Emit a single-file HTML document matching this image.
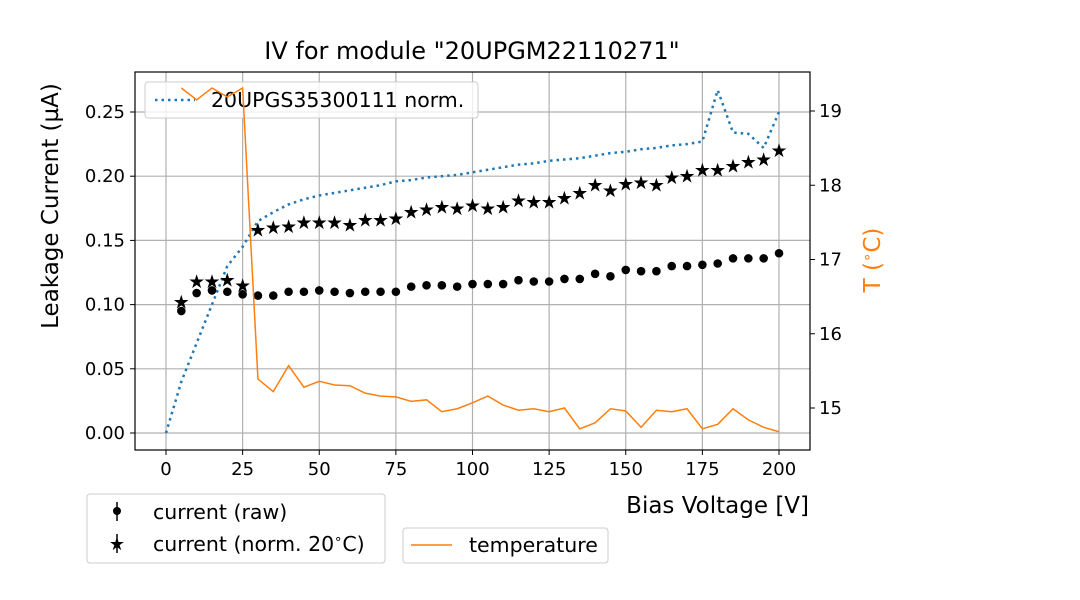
<!DOCTYPE html>
<html><head><meta charset="utf-8"><style>
html,body{margin:0;padding:0;background:#fff;}
svg{display:block;font-family:"DejaVu Sans","Liberation Sans",sans-serif;}
</style></head><body>
<svg id="chart" width="1080" height="600" xmlns="http://www.w3.org/2000/svg">
<rect width="1080" height="600" fill="#fff"/>
<g id="grid"></g>
<g id="marks"></g>
<rect x="135" y="72" width="675" height="378" fill="none" stroke="#000" stroke-width="1.2"/>
<g id="axes"></g>
<text x="472" y="59" font-size="24" text-anchor="middle">IV for module "20UPGM22110271"</text>
<text x="809" y="513" font-size="23" text-anchor="end">Bias Voltage [V]</text>
<text transform="translate(58,206) rotate(-90)" font-size="23" text-anchor="middle">Leakage Current (µA)</text>
<text transform="translate(880,260) rotate(-90)" font-size="23" text-anchor="middle" fill="#ff7f0e">T (<tspan font-size="15" dy="-8">∘</tspan><tspan dy="8">C)</tspan></text>
<g>
<rect x="145" y="82" width="333" height="36" rx="3" fill="#fff" fill-opacity="0.8" stroke="#ccc"/>
<line x1="155" y1="100" x2="195" y2="100" stroke="#1f77b4" stroke-width="2.5" stroke-dasharray="2.5,4"/>
<text x="211" y="107" font-size="20.5">20UPGS35300111 norm.</text>
</g>
<g id="orangeTop"></g>
<g>
<rect x="87" y="494" width="298" height="69" rx="3" fill="#fff" stroke="#ccc"/>
<line x1="117" y1="502" x2="117" y2="521" stroke="#000" stroke-width="1.5"/>
<circle cx="117" cy="511" r="4" fill="#000"/>
<text x="153" y="519" font-size="20.5">current (raw)</text>
<line x1="117" y1="534" x2="117" y2="553" stroke="#000" stroke-width="1.5"/>
<text x="117" y="550" font-size="18" text-anchor="middle">★</text>
<text x="153" y="551" font-size="20.5">current (norm. 20<tspan font-size="13" dy="-8">∘</tspan><tspan dy="8">C)</tspan></text>
</g>
<g>
<rect x="403" y="528" width="205" height="35" rx="3" fill="#fff" stroke="#ccc"/>
<line x1="411" y1="545" x2="452" y2="545" stroke="#ff7f0e" stroke-width="1.5"/>
<text x="469" y="552" font-size="20.5">temperature</text>
</g>
</svg>
<script>
const voltages=[5,10,15,20,25,30,35,40,45,50,55,60,65,70,75,80,85,90,95,100,105,110,115,120,125,130,135,140,145,150,155,160,165,170,175,180,185,190,195,200];
const currentRaw=[0.095,0.109,0.111,0.110,0.108,0.107,0.107,0.110,0.110,0.111,0.110,0.109,0.110,0.110,0.110,0.114,0.115,0.115,0.114,0.116,0.116,0.116,0.119,0.118,0.118,0.120,0.120,0.124,0.122,0.127,0.126,0.126,0.130,0.130,0.131,0.132,0.136,0.136,0.136,0.140];
const currentNorm=[0.102,0.118,0.118,0.119,0.115,0.158,0.160,0.161,0.164,0.164,0.164,0.162,0.166,0.166,0.167,0.172,0.174,0.176,0.175,0.177,0.175,0.176,0.181,0.180,0.180,0.183,0.187,0.193,0.189,0.194,0.195,0.193,0.199,0.200,0.205,0.205,0.208,0.211,0.213,0.220];
const sensorVoltages=[0,5,10,15,20,25,30,35,40,45,50,55,60,65,70,75,80,85,90,95,100,105,110,115,120,125,130,135,140,145,150,155,160,165,170,175,180,185,190,195,200];
const sensorNorm=[0.0,0.04,0.07,0.10,0.13,0.145,0.165,0.172,0.178,0.182,0.185,0.187,0.189,0.191,0.193,0.196,0.197,0.199,0.200,0.201,0.203,0.205,0.207,0.209,0.210,0.212,0.213,0.214,0.216,0.218,0.219,0.221,0.222,0.224,0.225,0.227,0.267,0.234,0.233,0.222,0.250];
const temperature=[19.31,19.15,19.31,19.19,19.31,15.39,15.22,15.57,15.28,15.36,15.31,15.30,15.20,15.16,15.15,15.09,15.11,14.95,14.99,15.07,15.16,15.04,14.97,14.99,14.95,15.0,14.72,14.80,14.99,14.96,14.74,14.97,14.95,14.99,14.72,14.78,14.99,14.84,14.74,14.68];
const xTicks=[0,25,50,75,100,125,150,175,200];
const yTicks=[0,0.05,0.10,0.15,0.20,0.25];
const yTickLabels=["0.00","0.05","0.10","0.15","0.20","0.25"];
const tTicks=[15,16,17,18,19];

const NS="http://www.w3.org/2000/svg";
const xs=v=>166+v*(779-166)/200;
const ys=v=>433-v*(433-112)/0.25;
const ts=t=>408-(t-15)*(408-111)/4;
function mk(tag,attrs,parent){const e=document.createElementNS(NS,tag);for(const k in attrs)e.setAttribute(k,attrs[k]);parent.appendChild(e);return e;}
const grid=document.getElementById('grid'),marks=document.getElementById('marks'),axes=document.getElementById('axes');
xTicks.forEach(v=>{const x=xs(v);
 const g=mk('line',{x1:x,x2:x,y1:72,y2:450,stroke:'#b0b0b0','stroke-width':1.2},grid);
 
 
 mk('line',{x1:x,x2:x,y1:450,y2:455,stroke:'#000'},axes);
 const t=mk('text',{x:x,y:475,'font-size':18,'text-anchor':'middle'},axes);t.textContent=v;
 
 });
yTicks.forEach((v,i)=>{const y=ys(v);
 const g=mk('line',{x1:135,x2:810,y1:y,y2:y,stroke:'#b0b0b0','stroke-width':1.2},grid);
 
 
 mk('line',{x1:130,x2:135,y1:y,y2:y,stroke:'#000'},axes);
 const t=mk('text',{x:125,y:y+6,'font-size':18,'text-anchor':'end'},axes);t.textContent=yTickLabels[i];
 
 });
tTicks.forEach(v=>{const y=ts(v);
 mk('line',{x1:810,x2:815,y1:y,y2:y,stroke:'#000'},axes);
 const t=mk('text',{x:819,y:y+6,'font-size':18},axes);t.textContent=v;
 
 });
const sp=mk('polyline',{points:sensorVoltages.map((v,i)=>xs(v)+','+ys(sensorNorm[i])).join(' '),fill:'none',stroke:'#1f77b4','stroke-width':2.5,'stroke-dasharray':'2.5,4'},marks);


voltages.forEach((v,i)=>{
 const c=mk('circle',{cx:xs(v),cy:ys(currentRaw[i]),r:4.3,fill:'#000'},marks);
 
 
 const s=mk('text',{x:xs(v),y:ys(currentNorm[i])+6.5,'font-size':19,'text-anchor':'middle'},marks);s.textContent='★';
 
 
});
const tp=mk('polyline',{points:voltages.map((v,i)=>xs(v)+','+ts(temperature[i])).join(' '),fill:'none',stroke:'#ff7f0e','stroke-width':1.5},document.getElementById('orangeTop'));


</script>
</body></html>
